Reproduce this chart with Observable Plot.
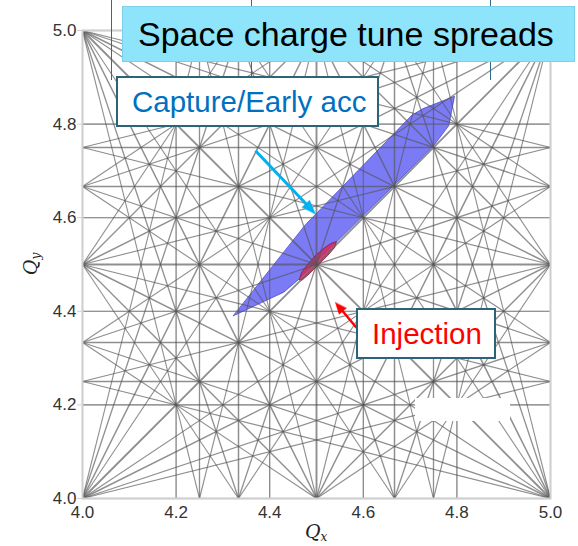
<!DOCTYPE html>
<html>
<head>
<meta charset="utf-8">
<script src="https://cdn.jsdelivr.net/npm/d3@7"></script>
<script src="https://cdn.jsdelivr.net/npm/@observablehq/plot@0.6"></script>
<style>
  html, body { margin: 0; padding: 0; background: #fff; }
  #wrap { position: relative; width: 578px; height: 546px; overflow: hidden;
          font-family: "Liberation Sans", Arial, sans-serif; }
  #wrap svg { display: block; position: absolute; left: 0; top: 0; }
  .vline { position: absolute; top: 0; width: 1px; height: 80px; background: #2e6e8c; }
  .box { position: absolute; box-sizing: border-box; display: flex; align-items: center;
         white-space: nowrap; line-height: 1; }
  .title { left: 122px; top: 6px; width: 453px; height: 56px; background: #8ee5fb;
           border: 1.5px solid #7ccfe8; padding-left: 15px; font-size: 34px; color: #000; }
  .capture { left: 116px; top: 76px; width: 263px; height: 51px; background: #fff;
             border: 2px solid #2b6479; padding-left: 14px; font-size: 29.5px; color: #0070c0; }
  .inject { left: 356px; top: 308px; width: 140px; height: 51px; background: #fff;
            border: 2px solid #2b6479; padding-left: 14px; font-size: 29.5px; color: #ff0000; }
  .patch { position: absolute; left: 415px; top: 398px; width: 95px; height: 23px; background: #fff; }
  .qlabel { position: absolute; font-family: "DejaVu Serif", serif; font-style: italic;
            font-size: 19px; color: #222; line-height: 1; white-space: nowrap; }
  .qlabel sub { font-size: 12px; vertical-align: -3px; }
</style>
</head>
<body>
<div id="wrap"></div>
<script>
// Tune-space window and tick positions
const qMin = 4.0, qMax = 5.0;
const tickValues = [4.0, 4.2, 4.4, 4.6, 4.8, 5.0];
// Highest resonance order drawn (|m| + |n|)
const maxOrder = 5;

// Capture / early acceleration tune footprint (polygon vertices)
const captureQx = [4.3226, 4.4301, 4.4637, 4.7506, 4.7827, 4.7949, 4.7265, 4.7030, 4.4765];
const captureQy = [4.3906, 4.4409, 4.4697, 4.7541, 4.7969, 4.8595, 4.8326, 4.8183, 4.5852];

// Injection tune footprint (outline vertices)
const injectionQx = [4.4637, 4.4679, 4.4808, 4.4979, 4.5150, 4.5299, 4.5427, 4.5385, 4.5235, 4.5043, 4.4850, 4.4701];
const injectionQy = [4.4676, 4.4826, 4.4997, 4.5189, 4.5339, 4.5446, 4.5489, 4.5361, 4.5189, 4.4997, 4.4805, 4.4676];

// Annotation arrows: tail and tip in tune coordinates
const arrowNames = ["capture", "injection"];
const arrowTailQx = [4.3697, 4.5855];
const arrowTailQy = [4.7432, 4.3650];
const arrowTipQx = [4.4979, 4.5406];
const arrowTipQy = [4.6081, 4.4185];
const arrowColors = ["#00b0f0", "#ff0000"];
const arrowWidths = [3, 2.5];
const arrowHeadLen = [0.030, 0.024];
const arrowHeadHalf = [0.011, 0.010];

// Resonance lines m*Qx + n*Qy = p inside the window, lowest order kept
function gcd(a, b) { a = Math.abs(a); b = Math.abs(b); while (b) [a, b] = [b, a % b]; return a; }
const seen = new Set();
const resonances = [];
for (let m = -maxOrder; m <= maxOrder; m++) {
  for (let n = -maxOrder; n <= maxOrder; n++) {
    const order = Math.abs(m) + Math.abs(n);
    if (order < 1 || order > maxOrder) continue;
    if (m < 0 || (m === 0 && n < 0)) continue;
    const corners = [[qMin, qMin], [qMin, qMax], [qMax, qMin], [qMax, qMax]].map(([x, y]) => m * x + n * y);
    const pLo = Math.ceil(Math.min(...corners) - 1e-9), pHi = Math.floor(Math.max(...corners) + 1e-9);
    for (let p = pLo; p <= pHi; p++) {
      const g = gcd(gcd(m, n), p) || 1;
      const key = `${m / g},${n / g},${p / g}`;
      if (seen.has(key)) continue;
      seen.add(key);
      const ord = order / g;
      if (ord < 2) continue; // integer lines coincide with the frame
      const pts = [];
      if (n !== 0) {
        for (const x of [qMin, qMax]) { const y = (p - m * x) / n; if (y >= qMin - 1e-9 && y <= qMax + 1e-9) pts.push([x, y]); }
      }
      if (m !== 0) {
        for (const y of [qMin, qMax]) { const x = (p - n * y) / m; if (x >= qMin - 1e-9 && x <= qMax + 1e-9) pts.push([x, y]); }
      }
      const uniq = [];
      for (const pt of pts) if (!uniq.some(u => Math.hypot(u[0] - pt[0], u[1] - pt[1]) < 1e-7)) uniq.push(pt);
      if (uniq.length < 2) continue;
      uniq.sort((a, b) => a[0] - b[0] || a[1] - b[1]);
      const a = uniq[0], b = uniq[uniq.length - 1];
      resonances.push({x1: a[0], y1: a[1], x2: b[0], y2: b[1], order: ord});
    }
  }
}
const widthByOrder = {2: 1.9, 3: 1.5, 4: 1.3, 5: 1.1};

const capture = captureQx.map((qx, i) => ({qx, qy: captureQy[i]}));
const injection = injectionQx.map((qx, i) => ({qx, qy: injectionQy[i]}));

// Arrow shafts and filled heads
const shafts = [], heads = [];
arrowNames.forEach((name, i) => {
  const tx = arrowTailQx[i], ty = arrowTailQy[i], hx = arrowTipQx[i], hy = arrowTipQy[i];
  const len = Math.hypot(hx - tx, hy - ty);
  const ux = (hx - tx) / len, uy = (hy - ty) / len;
  const bx = hx - ux * arrowHeadLen[i], by = hy - uy * arrowHeadLen[i];
  shafts.push({name, x1: tx, y1: ty, x2: bx + ux * 0.004, y2: by + uy * 0.004, color: arrowColors[i], w: arrowWidths[i]});
  const w = arrowHeadHalf[i];
  heads.push({name, color: arrowColors[i], x: hx, y: hy});
  heads.push({name, color: arrowColors[i], x: bx - uy * w, y: by + ux * w});
  heads.push({name, color: arrowColors[i], x: bx + uy * w, y: by - ux * w});
});

const fmt = d3.format(".1f");
const chart = Plot.plot({
  width: 578,
  height: 546,
  marginLeft: 82,
  marginRight: 28,
  marginTop: 30,
  marginBottom: 48,
  x: {domain: [qMin, qMax]},
  y: {domain: [qMin, qMax]},
  style: {fontFamily: "'Liberation Sans', Arial, sans-serif", fontSize: "17px", background: "transparent", overflow: "visible"},
  marks: [
    Plot.gridX(tickValues, {stroke: "#d2d2d2", strokeOpacity: 1, strokeWidth: 1.3}),
    Plot.gridY(tickValues, {stroke: "#d2d2d2", strokeOpacity: 1, strokeWidth: 1.3}),
    Plot.line(capture, {x: "qx", y: "qy", fill: "#7b7bf6", stroke: "#4a4ac8", strokeWidth: 0.8, curve: "linear-closed"}),
    Plot.line(injection, {x: "qx", y: "qy", fill: "#dc1e4a", fillOpacity: 0.72, stroke: "#8b1030", strokeWidth: 0.8, curve: "linear-closed"}),
    Plot.link(resonances, {x1: "x1", y1: "y1", x2: "x2", y2: "y2", stroke: "#555", strokeOpacity: 0.66,
      strokeWidth: d => widthByOrder[d.order]}),
    Plot.frame({stroke: "#cfcfcf", strokeWidth: 2}),
    Plot.axisX(tickValues, {tickSize: 0, tickPadding: 7, tickFormat: fmt, fill: "#333", label: null}),
    Plot.axisY(tickValues, {tickSize: 5, tickPadding: 1, stroke: "#d2d2d2", tickFormat: fmt, fill: "#333", label: null}),
    Plot.link(shafts, {x1: "x1", y1: "y1", x2: "x2", y2: "y2", stroke: "color", strokeWidth: "w"}),
    Plot.line(heads, {x: "x", y: "y", z: "name", fill: "color", stroke: "color", strokeWidth: 0.5, curve: "linear-closed"})
  ]
});

const wrap = document.getElementById("wrap");
wrap.appendChild(chart);
wrap.insertAdjacentHTML("beforeend", `
  <div class="vline" style="left:111px"></div>
  <div class="vline" style="left:251px"></div>
  <div class="vline" style="left:490px"></div>
  <div class="patch"></div>
  <div class="box title">Space charge tune spreads</div>
  <div class="box capture">Capture/Early acc</div>
  <div class="box inject">Injection</div>
  <div class="qlabel" style="left:305px; top:522px">Q<sub>x</sub></div>
  <div class="qlabel" style="left:31px; top:264px; transform: translate(-50%, -50%) rotate(-90deg)">Q<sub>y</sub></div>
`);
</script>
</body>
</html>
